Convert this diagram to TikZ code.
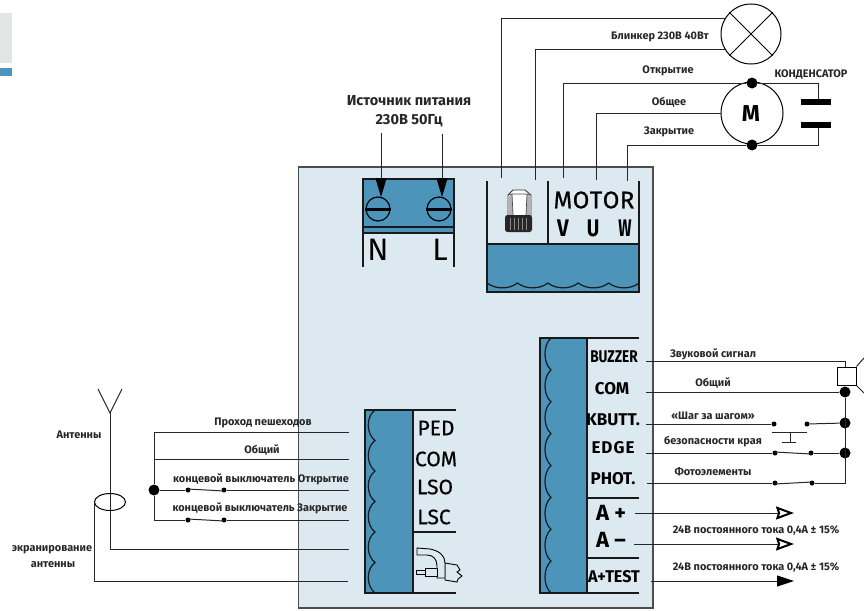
\documentclass[tikz,border=0pt]{standalone}
\usepackage{fontspec}
\setmainfont{Fira Sans}
\newfontfamily\heavyfont[FakeBold=0.5]{Fira Sans}
\usepackage{xcolor}
\usetikzlibrary{arrows.meta, positioning, calc, shapes.geometric}
\definecolor{panelblue}{HTML}{DCE9F1}
\definecolor{blockblue}{HTML}{4D94BA}
\definecolor{cornergray}{HTML}{E3E4E5}
\begin{document}
\begin{tikzpicture}[
  x=1pt, y=-1pt,
  wire/.style={draw=black!85, line width=1pt},
  edgeline/.style={draw=black!90, line width=1.2pt},
  capline/.style={draw=black, line width=6pt},
  notecap/.style={font=\fontsize{10.9}{12}\selectfont\bfseries, text=black!85, inner sep=0pt},
  headcap/.style={font=\fontsize{14.5}{16}\selectfont\bfseries, text=black!85, inner sep=0pt},
  pinlabel/.style={font=\fontsize{17}{19}\selectfont\bfseries, text=black, inner sep=0pt},
  lowpin/.style={font=\fontsize{21}{23}\selectfont\heavyfont, text=black, inner sep=0pt},
  vuwlabel/.style={font=\fontsize{24}{26}\selectfont\bfseries, text=black, inner sep=0pt},
  biglabel/.style={font=\fontsize{31}{33}\selectfont, text=black, inner sep=0pt},
  pin/.style={circle, fill=black, inner sep=0pt, minimum size=5pt},
  joint/.style={circle, fill=black, inner sep=0pt, minimum size=11pt},
  powerhead/.style={-{Triangle[black, length=19pt, width=11pt]}},
  openhead/.style={-{Stealth[open, black, fill=white, length=18pt, width=13pt, inset=2pt, line width=2pt]}},
  fullhead/.style={-{Stealth[black, length=17pt, width=11pt, inset=0pt]}}
]
  \useasboundingbox (0,0) rectangle (864,610);
  \fill[cornergray] (0,13) rectangle (12,63);
  \fill[blockblue] (0,68) rectangle (12,76);
  \draw[draw=black!70, fill=panelblue, line width=1.2pt] (298.5,167) rectangle (653,608);

  \filldraw[fill=blockblue, edgeline] (363,179) rectangle (454,227);
  \filldraw[fill=blockblue, edgeline] (363,227) rectangle (454,233);
  \draw[edgeline] (363,233) -- (363,267) (454,233) -- (454,267);
  \foreach \sx/\sname in {378/n, 439/l} {
    \node[circle, draw=black, line width=1.2pt, fill=blockblue, minimum size=24pt, inner sep=0pt] (screw\sname) at (\sx,209) {};
    \draw[black, line width=3pt] (screw\sname.west) -- (screw\sname.east);
  }
  \node[biglabel] (nlabel) at (378,250) {N};
  \node[biglabel] (llabel) at (440,250) {L};
  \coordinate (ntop) at (381,133);
  \coordinate (ltip) at (442,197);
  \coordinate (ltop) at (442,134);
  \coordinate (ntip) at (381,197);
  \draw[wire, powerhead] (ntop) -- (ntip);
  \draw[wire, powerhead] (ltop) -- (ltip);
  \node[headcap] (srchead) at (409,101) {Источник питания};
  \node[headcap] (srcvolt) at (409,121) {230В 50Гц};

  \filldraw[fill=blockblue, edgeline] (487,244) rectangle (639,292);
  \draw[edgeline] (487,244) -- (487,181) (639,244) -- (639,181) (548,244) -- (548,181);
  \draw[edgeline] (487,283) \foreach \cx in {517.4,547.8,578.2,608.6,639} {
    .. controls ($(\cx-22,289.5)$) and ($(\cx-8,289.5)$) .. (\cx,283)
  };
  \node[font=\fontsize{24}{26}\selectfont\heavyfont, inner sep=0pt] (motorlabel) at (594,200) {M\kern.5pt O\kern.5pt T\kern.5pt O\kern.5pt R};
  \node[vuwlabel] (vlabel) at (563,228) {\scalebox{.85}[1]{V}};
  \node[vuwlabel] (ulabel) at (593,228) {\scalebox{.8}[1]{U}};
  \node[vuwlabel] (wlabel) at (625,228) {\scalebox{.65}[1]{W}};

  \filldraw[fill=white, draw=black!80, line width=.8pt] (508,195) -- (513,190) -- (525,190) -- (531,195) -- (531,216) -- (508,216) -- cycle;
  \fill[black!30] (509,196) -- (512,194) -- (513,215) -- (509,215) -- cycle (530,196) -- (527,194) -- (526,215) -- (530,215) -- cycle;
  \draw[black!70, line width=.7pt] (508,195) -- (512,194) -- (527,194) -- (531,195) (512,194) -- (513,215) (527,194) -- (526,215);
  \fill[black!85, rounded corners=2.5pt] (505,215) rectangle (532,232);
  \foreach \rx in {510,514,518,522,526} {
    \draw[black!45, line width=.4pt] (\rx,218) -- (\rx,230);
  }

  \node[draw=black, line width=1pt, circle, minimum size=60pt, inner sep=0pt] (lamp) at (751,34) {};
  \draw[black, line width=.9pt] (lamp.north west) -- (lamp.south east) (lamp.north east) -- (lamp.south west);
  \node[draw=black, line width=1pt, circle, minimum size=62pt, inner sep=0pt] (motor) at (752,113) {};
  \node[font=\fontsize{23}{25}\selectfont\bfseries, inner sep=0pt] (motorm) at (751,114) {M};
  \node[joint] (mopen) at (752,83) {};
  \node[joint] (mclose) at (752,145) {};
  \coordinate (flasha) at (501,178);
  \coordinate (flashb) at (535,180);
  \coordinate (vpin) at (563,178);
  \coordinate (upin) at (596,180);
  \coordinate (wpin) at (627,181);
  \coordinate (capa) at (818,102);
  \coordinate (capb) at (818,125);
  \draw[wire] (flasha) |- (lamp.150);
  \draw[wire] (flashb) |- (lamp.210);
  \draw[wire] (vpin) |- (mopen);
  \draw[wire] (upin) |- (motor.west);
  \draw[wire] (wpin) |- (mclose);
  \draw[wire] (mopen) -| (capa);
  \draw[wire] (mclose) -| (capb);
  \draw[capline] (801,102) -- (831,102);
  \draw[capline] (801,125) -- (831,125);
  \node[notecap] (flashcap) at (660,37) {Блинкер 230В 40Вт};
  \node[notecap] (opencap) at (668,71) {Открытие};
  \node[notecap] (comcap) at (669,102) {Общее};
  \node[notecap] (closecap) at (669,132) {Закрытие};
  \node[notecap] (condcap) at (811,75) {КОНДЕНСАТОР};

  \fill[blockblue] (365,410) rectangle (413,593);
  \draw[edgeline] (413,410) -- (365,410) -- (365,593) -- (413,593) -- cycle;
  \draw[edgeline] (413,410) -- (456,410) (413,532) -- (456,532) (413,593) -- (456,593);
  \draw[edgeline] (375,410) \foreach \wy in {440.5,471,501.5,532,562.5,593} {
    .. controls ($(366,\wy-24)$) and ($(366,\wy-7)$) .. (375,\wy)
  };
  \node[lowpin] (pedlabel) at (436,428) {PED};
  \node[lowpin] (comlabel) at (436,459) {COM};
  \node[lowpin] (lsolabel) at (435,487) {LSO};
  \node[lowpin] (lsclabel) at (434,517) {LSC};
  \draw[black, line width=.9pt, fill=panelblue] (445,563) -- (457,565) -- (460,570) -- (457,572) -- (462,576) -- (458,579) -- (457,582) -- (445,580) -- cycle;
  \draw[black, line width=.9pt, fill=panelblue] (417,548) -- (430,549) .. controls (440,551) and (445,556) .. (445,563) -- (445,578) -- (437,578) -- (437,566) .. controls (437,559) and (433,555) .. (427,555) -- (417,555) -- cycle;
  \draw[black, line width=.9pt, fill=panelblue] (425,568) rectangle (437,576);
  \draw[black, line width=.9pt, fill=panelblue] (416,570) rectangle (425,574);

  \coordinate (pedpin) at (349,432);
  \coordinate (compin) at (349,459);
  \coordinate (lsopin) at (349,490);
  \coordinate (lscpin) at (349,520);
  \coordinate (antpin) at (349,549);
  \coordinate (shldpin) at (348,581);
  \coordinate (commonl) at (154,459);
  \node[joint] (leftjoint) at (154,490) {};
  \node[pin] (lsoa) at (188,490) {};
  \node[pin] (lsob) at (224,490) {};
  \node[pin] (lsca) at (188,520) {};
  \node[pin] (lscb) at (224,520) {};
  \draw[wire] (pedpin) -| (leftjoint);
  \draw[wire] (commonl) -- (compin);
  \draw[wire] (leftjoint) -- (lsoa);
  \draw[wire] ([yshift=1pt]lsoa.center) -- ([yshift=-1pt]lsob.center);
  \draw[wire] (lsob) -- (lsopin);
  \draw[wire] (lscpin) -- (lscb);
  \draw[wire] ([yshift=1pt]lsca.center) -- ([yshift=-1pt]lscb.center);
  \draw[wire] (lsca) -| (leftjoint);

  \coordinate (anttip) at (110,413);
  \coordinate (antl) at (98,389);
  \coordinate (antr) at (122,389);
  \node[draw=black, line width=1pt, ellipse, minimum width=31pt, minimum height=17pt, inner sep=0pt] (shield) at (110,502) {};
  \draw[wire] (antl) -- (anttip) -- (antr);
  \draw[wire] (anttip) |- (antpin);
  \draw[wire] (shield.west) |- (shldpin);
  \node[notecap] (pedcap) at (263,423) {Проход пешеходов};
  \node[notecap] (comcapl) at (262,450) {Общий};
  \node[notecap] (lsocap) at (261,479) {концевой выключатель Открытие};
  \node[notecap] (lsccap) at (260,508) {концевой выключатель Закрытие};
  \node[notecap] (antcap) at (79,435) {Антенны};
  \node[notecap] (shldcap) at (52,550) {экранирование};
  \node[notecap] (shldcapb) at (53,565) {антенны};

  \fill[blockblue] (540,338) rectangle (587,593);
  \draw[edgeline] (587,338) -- (540,338) -- (540,593) -- (587,593) -- cycle;
  \draw[edgeline] (587,338) -- (639,338) (587,498) -- (639,498) (587,558) -- (639,558) (587,593) -- (639,593);
  \draw[edgeline] (551,338) \foreach \wy in {369.9,401.8,433.6,465.5,497.4,529.3,561.1,593} {
    .. controls ($(543,\wy-25)$) and ($(543,\wy-7)$) .. (551,\wy)
  };
  \node[pinlabel] (buzzlabel) at (614,357) {\scalebox{.8}[1]{BUZZER}};
  \node[pinlabel] (comrlabel) at (612,389) {COM};
  \node[pinlabel] (kbutlabel) at (613,420) {KBUTT.};
  \node[pinlabel] (edgelabel) at (613,448) {E\kern1pt D\kern1pt G\kern1pt E};
  \node[pinlabel] (photlabel) at (613,479) {PHOT.};
  \node[pinlabel, font=\fontsize{22}{24}\selectfont\bfseries] (aplabel) at (611,513) {A +};
  \node[pinlabel, font=\fontsize{22}{24}\selectfont\bfseries] (amlabel) at (611,540) {A –};
  \node[pinlabel] (atestlabel) at (614,577) {\scalebox{.95}[1]{A+TEST}};

  \coordinate (buzzpin) at (646,361);
  \coordinate (comrpin) at (646,392);
  \coordinate (kbutpin) at (646,424);
  \coordinate (edgepin) at (646,453);
  \coordinate (photpin) at (647,483);
  \coordinate (appin) at (635,513);
  \coordinate (ampin) at (634,544);
  \coordinate (atpin) at (651,581);
  \coordinate (apend) at (794,513);
  \coordinate (amend) at (794,544);
  \coordinate (atend) at (794,581);
  \node[draw=black, fill=white, line width=1pt, minimum width=19pt, minimum height=18pt, inner sep=0pt] (speaker) at (846.5,376) {};
  \coordinate (hornup) at (864,358);
  \coordinate (horndn) at (864,393);
  \draw[wire] (speaker.north east) -- (hornup);
  \draw[wire] (speaker.south east) -- (horndn);
  \node[joint] (comjoint) at (845,392) {};
  \node[joint] (kbutjoint) at (845,423) {};
  \node[joint] (edgejoint) at (845,453) {};
  \node[pin] (kbuta) at (774,424) {};
  \node[pin] (kbutb) at (807,424) {};
  \node[pin] (edgea) at (775,453) {};
  \node[pin] (edgeb) at (811,453) {};
  \node[pin] (phota) at (775,483) {};
  \node[pin] (photb) at (812,483) {};
  \coordinate (photend) at (845,483);
  \draw[wire] (buzzpin) -| ([xshift=-1.5pt]speaker.north);
  \draw[wire] (comrpin) -- (comjoint);
  \draw[wire] (kbutpin) -- (kbuta);
  \draw[wire] (kbutb) -- (kbutjoint);
  \draw[wire] (edgepin) -- (edgea);
  \draw[wire] ([yshift=1pt]edgea.center) -- ([yshift=-1pt]edgeb.center);
  \draw[wire] (edgeb) -- (edgejoint);
  \draw[wire] (photpin) -- (phota);
  \draw[wire] ([yshift=-1pt]phota.center) -- ([yshift=1pt]photb.center);
  \draw[wire] (photb) -- (photend) -- (comjoint);
  \draw[wire] (772,432) -- (807,432) (790,432) -- (790,442) (782,442) -- (796,442);
  \draw[wire, openhead] (appin) -- (apend);
  \draw[wire, openhead] (ampin) -- (amend);
  \draw[wire, fullhead] (atpin) -- (atend);
  \node[notecap] (buzzcap) at (713,354) {Звуковой сигнал};
  \node[notecap] (comrcap) at (713,383) {Общий};
  \node[notecap] (kbutcap) at (713,416) {«Шаг за шагом»};
  \node[notecap] (edgecap) at (713,442) {безопасности края};
  \node[notecap] (photcap) at (713,472) {Фотоэлементы};
  \node[notecap] (apcap) at (756,531) {24В постоянного тока 0,4А ± 15\%};
  \node[notecap] (atcap) at (756,568) {24В постоянного тока 0,4А ± 15\%};
\end{tikzpicture}
\end{document}
